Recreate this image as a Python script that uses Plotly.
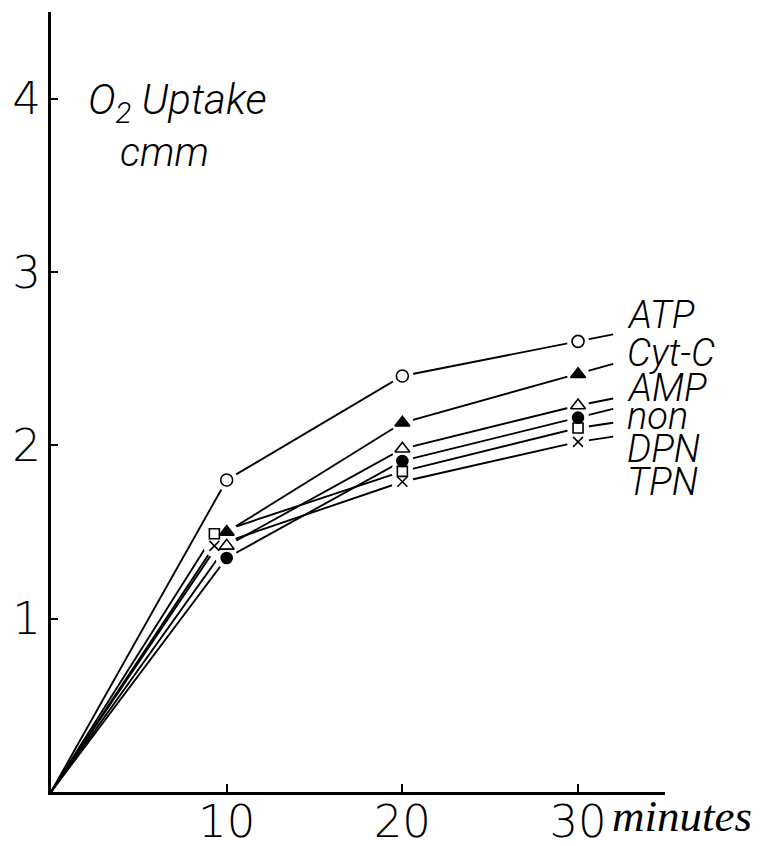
import plotly.graph_objects as go

# ---- data ----
series_names = ["ATP", "Cyt-C", "AMP", "non", "DPN", "TPN"]
t_ATP = [0, 10, 20, 30, 32]
t_CytC = [0, 10, 20, 30, 32]
t_AMP = [0, 10, 20, 30, 32]
t_non = [0, 10, 20, 30, 32]
t_DPN = [0, 9.3, 20, 30, 32]
t_TPN = [0, 9.3, 20, 30, 32]
ATP = [0, 1.80, 2.40, 2.60, 2.64]
CytC = [0, 1.50, 2.13, 2.41, 2.47]
AMP = [0, 1.42, 1.98, 2.23, 2.27]
non = [0, 1.35, 1.91, 2.16, 2.21]
DPN = [0, 1.49, 1.85, 2.10, 2.13]
TPN = [0, 1.42, 1.79, 2.02, 2.05]
x_ticks = [10, 20, 30]
y_ticks = [1, 2, 3, 4]

times = [t_ATP, t_CytC, t_AMP, t_non, t_DPN, t_TPN]
values = [ATP, CytC, AMP, non, DPN, TPN]

# ---- styles ----
symbols = ["circle-open", "triangle-up", "triangle-up-open", "circle", "square-open", "x-thin-open"]
msizes = [12, 13, 13, 11, 10, 10]
label_y = [2.75, 2.53, 2.33, 2.17, 1.98, 1.79]

fig = go.Figure()
# lines
for t, v in zip(times, values):
    fig.add_trace(go.Scatter(x=t, y=v, mode="lines",
                             line=dict(color="black", width=1.9),
                             hoverinfo="skip", showlegend=False))
# white halos make the gaps around the markers
for t, v in zip(times, values):
    fig.add_trace(go.Scatter(x=t[1:4], y=v[1:4], mode="markers",
                             marker=dict(symbol="circle", size=22, color="white",
                                         line=dict(width=0)),
                             hoverinfo="skip", showlegend=False))
# markers
for name, t, v, s, ms in zip(series_names, times, values, symbols, msizes):
    fig.add_trace(go.Scatter(x=t[1:4], y=v[1:4], mode="markers", name=name,
                             marker=dict(symbol=s, size=ms, color="black",
                                         line=dict(color="black", width=1.6)),
                             showlegend=False))

tickfont = dict(family="DejaVu Sans", size=45, color="black", weight=200)
lab_font = dict(family="Roboto", size=38, color="black", weight=300, style="italic")

annotations = []
for name, ly in zip(series_names, label_y):
    annotations.append(dict(x=32.7, y=ly, xref="x", yref="y", text=name,
                            showarrow=False, xanchor="left", yanchor="middle",
                            font=lab_font))
annotations.append(dict(x=2.0, y=3.98, xref="x", yref="y",
                        text="O<sub>2</sub> Uptake", showarrow=False,
                        xanchor="left", yanchor="middle",
                        font=dict(lab_font, size=42)))
annotations.append(dict(x=3.8, y=3.69, xref="x", yref="y", text="cmm",
                        showarrow=False, xanchor="left", yanchor="middle",
                        font=dict(lab_font, size=40)))
annotations.append(dict(x=1.0, y=-0.031, xref="paper", yref="paper", text="minutes",
                        showarrow=False, xanchor="left", yanchor="middle",
                        xshift=-55,
                        font=dict(family="Liberation Serif", size=45, color="black",
                                  style="italic")))

fig.update_layout(
    width=768, height=846,
    margin=dict(l=51, r=103, t=12, b=54, autoexpand=False),
    paper_bgcolor="white", plot_bgcolor="white",
    annotations=annotations,
    xaxis=dict(range=[0, 34.95], tickvals=x_ticks, ticktext=[str(v) for v in x_ticks],
               showgrid=False, zeroline=False, showline=True, linecolor="black",
               linewidth=3, ticks="inside", ticklen=8, tickwidth=1.5, automargin=False,
               tickcolor="black", tickfont=tickfont, ticklabelstandoff=-12),
    yaxis=dict(range=[0, 4.5], tickvals=y_ticks, ticktext=[str(v) for v in y_ticks],
               showgrid=False, zeroline=False, showline=True, linecolor="black",
               linewidth=3, ticks="inside", ticklen=7, tickwidth=1.5, automargin=False,
               tickcolor="black", tickfont=tickfont, ticklabelstandoff=-2),
)

fig.write_html("out.html")
